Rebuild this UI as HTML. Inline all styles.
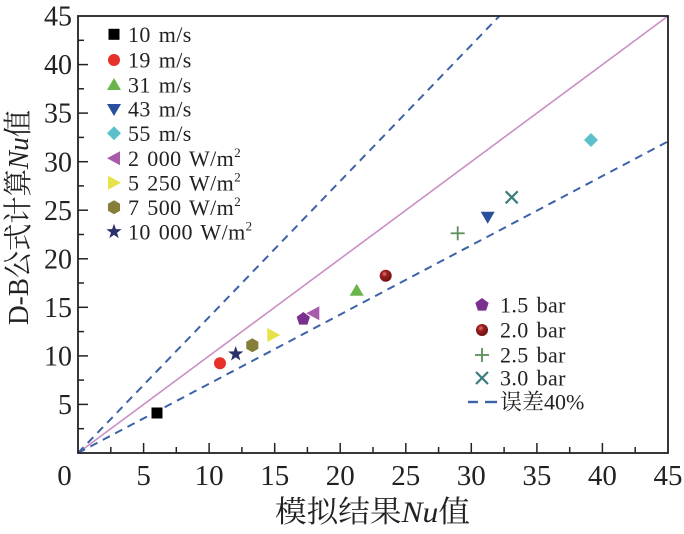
<!DOCTYPE html>
<html><head><meta charset="utf-8"><style>
html,body{margin:0;padding:0;background:#fff;}
svg{display:block;}
text{font-family:"Liberation Serif","Noto Serif CJK SC","Noto Sans CJK SC",serif;fill:#222;}
</style></head><body>
<svg width="684" height="534" viewBox="0 0 684 534" xmlns="http://www.w3.org/2000/svg">
<defs>
<radialGradient id="ball" cx="0.4" cy="0.35" r="0.7">
<stop offset="0" stop-color="#e07a7a"/><stop offset="0.35" stop-color="#9a1e1e"/><stop offset="1" stop-color="#6a0f0f"/>
</radialGradient>
</defs>
<!-- lines -->
<line x1="78" y1="453" x2="668" y2="16" stroke="#c98fc6" stroke-width="1.6"/>
<line x1="78" y1="453" x2="499.4" y2="16" stroke="#3d62a8" stroke-width="2" stroke-dasharray="8 6"/>
<line x1="78" y1="453" x2="668" y2="141.4" stroke="#3d62a8" stroke-width="2" stroke-dasharray="8 6"/>
<!-- frame -->
<rect x="78" y="16" width="590" height="437" fill="none" stroke="#222" stroke-width="1.8"/>
<!-- x ticks -->
<g stroke="#222" stroke-width="1.5">
<line x1="143.6" y1="453" x2="143.6" y2="443"/><line x1="209.1" y1="453" x2="209.1" y2="443"/><line x1="274.7" y1="453" x2="274.7" y2="443"/><line x1="340.2" y1="453" x2="340.2" y2="443"/><line x1="405.8" y1="453" x2="405.8" y2="443"/><line x1="471.3" y1="453" x2="471.3" y2="443"/><line x1="536.9" y1="453" x2="536.9" y2="443"/><line x1="602.4" y1="453" x2="602.4" y2="443"/>
<line x1="110.8" y1="453" x2="110.8" y2="447"/><line x1="176.3" y1="453" x2="176.3" y2="447"/><line x1="241.9" y1="453" x2="241.9" y2="447"/><line x1="307.4" y1="453" x2="307.4" y2="447"/><line x1="373" y1="453" x2="373" y2="447"/><line x1="438.6" y1="453" x2="438.6" y2="447"/><line x1="504.1" y1="453" x2="504.1" y2="447"/><line x1="569.7" y1="453" x2="569.7" y2="447"/><line x1="635.2" y1="453" x2="635.2" y2="447"/>
<!-- y ticks -->
<line x1="78" y1="404.4" x2="88" y2="404.4"/><line x1="78" y1="355.9" x2="88" y2="355.9"/><line x1="78" y1="307.3" x2="88" y2="307.3"/><line x1="78" y1="258.8" x2="88" y2="258.8"/><line x1="78" y1="210.2" x2="88" y2="210.2"/><line x1="78" y1="161.7" x2="88" y2="161.7"/><line x1="78" y1="113.1" x2="88" y2="113.1"/><line x1="78" y1="64.6" x2="88" y2="64.6"/>
<line x1="78" y1="428.7" x2="84" y2="428.7"/><line x1="78" y1="380.1" x2="84" y2="380.1"/><line x1="78" y1="331.6" x2="84" y2="331.6"/><line x1="78" y1="283" x2="84" y2="283"/><line x1="78" y1="234.5" x2="84" y2="234.5"/><line x1="78" y1="185.9" x2="84" y2="185.9"/><line x1="78" y1="137.4" x2="84" y2="137.4"/><line x1="78" y1="88.8" x2="84" y2="88.8"/><line x1="78" y1="40.3" x2="84" y2="40.3"/>
</g>
<!-- x tick labels -->
<g font-size="29" text-anchor="middle">
<text x="64.5" y="485">0</text><text x="143.6" y="485">5</text><text x="209.1" y="485">10</text><text x="274.7" y="485">15</text><text x="340.2" y="485">20</text><text x="405.8" y="485">25</text><text x="471.3" y="485">30</text><text x="536.9" y="485">35</text><text x="602.4" y="485">40</text><text x="668" y="485">45</text>
</g>
<!-- y tick labels -->
<g font-size="28" text-anchor="end">
<text x="72" y="414">5</text><text x="72" y="365.5">10</text><text x="72" y="317">15</text><text x="72" y="268.4">20</text><text x="72" y="219.8">25</text><text x="72" y="171.3">30</text><text x="72" y="122.7">35</text><text x="72" y="74.2">40</text><text x="72" y="25.6">45</text>
</g>
<!-- axis titles -->
<text x="275" y="522" font-size="30" textLength="195" lengthAdjust="spacingAndGlyphs">模拟结果<tspan font-style="italic">Nu</tspan>值</text>
<text transform="translate(28,325) rotate(-90)" x="0" y="0" font-size="29" textLength="215" lengthAdjust="spacingAndGlyphs">D-B公式计算<tspan font-style="italic">Nu</tspan>值</text>
<!-- data points -->
<rect x="151.5" y="407.5" width="11" height="11" fill="#000"/>
<circle cx="220" cy="363.3" r="6" fill="#e8302a"/>
<polygon transform="translate(235.7,354)" points="0,-8 1.88,-2.59 7.61,-2.47 3.04,0.99 4.70,6.47 0,3.2 -4.70,6.47 -3.04,0.99 -7.61,-2.47 -1.88,-2.59" fill="#2b2f6b"/>
<polygon transform="translate(252.3,345.3)" points="0,-7 6.06,-3.5 6.06,3.5 0,7 -6.06,3.5 -6.06,-3.5" fill="#857f3a"/>
<polygon transform="translate(273.3,335)" points="7,0 -6,-7 -6,7" fill="#e6e24a"/>
<polygon transform="translate(303.3,319)" points="0,-7 6.66,-2.16 4.11,5.66 -4.11,5.66 -6.66,-2.16" fill="#7b2f8e"/>
<polygon transform="translate(313.3,313.3)" points="-7,0 6,-7 6,7" fill="#a85aab"/>
<polygon transform="translate(356.7,290.7)" points="0,-7 7,5 -7,5" fill="#6ab44c"/>
<circle cx="385.7" cy="275.7" r="6" fill="url(#ball)"/>
<g stroke="#5a8f5a" stroke-width="1.8"><line x1="450.7" y1="233.3" x2="464.7" y2="233.3"/><line x1="457.7" y1="226.3" x2="457.7" y2="240.3"/></g>
<polygon transform="translate(487.7,216.7)" points="-7,-5 7,-5 0,7" fill="#2a4f9c"/>
<g stroke="#3a7d7a" stroke-width="2.2"><line x1="505.7" y1="191.3" x2="517.7" y2="203.3"/><line x1="517.7" y1="191.3" x2="505.7" y2="203.3"/></g>
<polygon transform="translate(591,140)" points="0,-7 7,0 0,7 -7,0" fill="#5bc0cc"/>
<!-- left legend -->
<rect x="108.5" y="28.8" width="11" height="11" fill="#000"/>
<circle cx="114" cy="60" r="6" fill="#e8302a"/>
<polygon transform="translate(114,85)" points="0,-7 7,5 -7,5" fill="#6ab44c"/>
<polygon transform="translate(114,109)" points="-7,-5 7,-5 0,7" fill="#2a4f9c"/>
<polygon transform="translate(114,133.3)" points="0,-7 7,0 0,7 -7,0" fill="#5bc0cc"/>
<polygon transform="translate(114,158.3)" points="-7,0 6,-7 6,7" fill="#a85aab"/>
<polygon transform="translate(114,182.7)" points="7,0 -6,-7 -6,7" fill="#e6e24a"/>
<polygon transform="translate(114,207.3)" points="0,-7 6.06,-3.5 6.06,3.5 0,7 -6.06,3.5 -6.06,-3.5" fill="#857f3a"/>
<polygon transform="translate(114,231.7)" points="0,-8 1.88,-2.59 7.61,-2.47 3.04,0.99 4.70,6.47 0,3.2 -4.70,6.47 -3.04,0.99 -7.61,-2.47 -1.88,-2.59" fill="#2b2f6b"/>
<g font-size="22" letter-spacing="0.4" word-spacing="2">
<text x="128" y="42">10 m/s</text>
<text x="128" y="67.5">19 m/s</text>
<text x="128" y="92.5">31 m/s</text>
<text x="128" y="116.5">43 m/s</text>
<text x="128" y="141">55 m/s</text>
<text x="128" y="166">2 000 W/m<tspan font-size="13" dy="-9">2</tspan></text>
<text x="128" y="190.5">5 250 W/m<tspan font-size="13" dy="-9">2</tspan></text>
<text x="128" y="215">7 500 W/m<tspan font-size="13" dy="-9">2</tspan></text>
<text x="128" y="239.5">10 000 W/m<tspan font-size="13" dy="-9">2</tspan></text>
</g>
<!-- right legend -->
<polygon transform="translate(482,305)" points="0,-7 6.66,-2.16 4.11,5.66 -4.11,5.66 -6.66,-2.16" fill="#7b2f8e"/>
<circle cx="482" cy="330" r="6" fill="url(#ball)"/>
<g stroke="#5a8f5a" stroke-width="1.8"><line x1="475" y1="355" x2="489" y2="355"/><line x1="482" y1="348" x2="482" y2="362"/></g>
<g stroke="#3a7d7a" stroke-width="2.2"><line x1="476" y1="372" x2="488" y2="384"/><line x1="488" y1="372" x2="476" y2="384"/></g>
<g stroke="#3d62a8" stroke-width="2.4"><line x1="468" y1="402" x2="478" y2="402"/><line x1="485" y1="402" x2="497" y2="402"/></g>
<g font-size="22" letter-spacing="0.4" word-spacing="2">
<text x="500" y="312.5">1.5 bar</text>
<text x="500" y="337.5">2.0 bar</text>
<text x="500" y="362.5">2.5 bar</text>
<text x="500" y="385.5">3.0 bar</text>
<text x="500" y="409.5" letter-spacing="0">误差40%</text>
</g>
</svg>
</body></html>
